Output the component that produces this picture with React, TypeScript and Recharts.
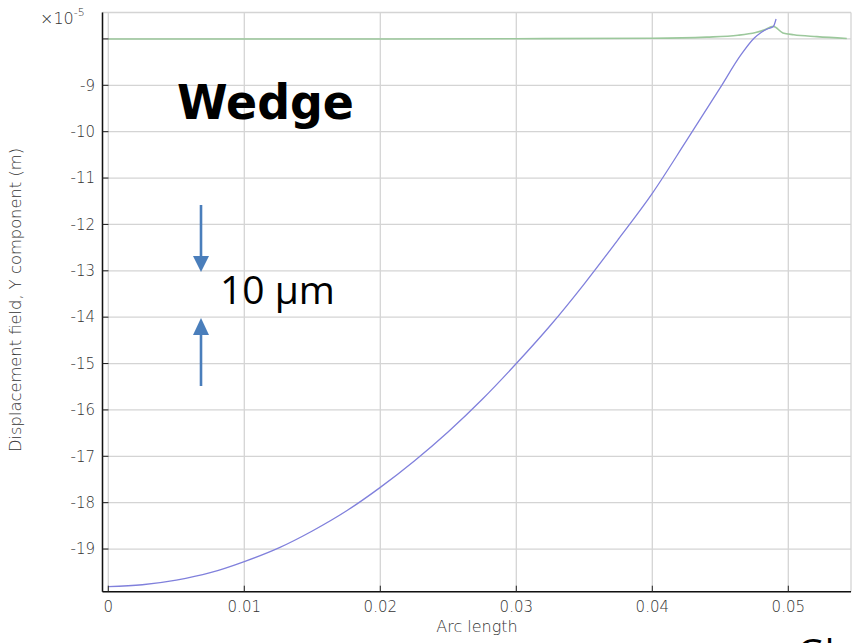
import { LineChart, Line, XAxis, YAxis, CartesianGrid } from 'recharts';

// arc length (m) vs displacement (×1e-5 m)
const blueArc = [0, 0.0025, 0.005, 0.0075, 0.01, 0.0125, 0.015, 0.0175, 0.02, 0.0225, 0.025, 0.0275, 0.03, 0.0325, 0.035, 0.0375, 0.04, 0.0425, 0.045, 0.0465, 0.0475, 0.048, 0.0485, 0.0489, 0.0491];
const blueDisp = [-19.81, -19.77, -19.67, -19.51, -19.27, -18.98, -18.61, -18.18, -17.67, -17.1, -16.47, -15.77, -15.0, -14.18, -13.28, -12.32, -11.33, -10.2, -9.05, -8.35, -7.98, -7.86, -7.78, -7.73, -7.57];

const greenArc = [0, 0.01, 0.02, 0.03, 0.04, 0.044, 0.0463, 0.0476, 0.0482, 0.0489, 0.0496, 0.0504, 0.0521, 0.0543];
const greenDisp = [-8.0, -8.0, -8.0, -7.995, -7.985, -7.96, -7.92, -7.86, -7.81, -7.73, -7.87, -7.91, -7.95, -7.99];

const xTicks = [0, 0.01, 0.02, 0.03, 0.04, 0.05];
const yTicks = [-19, -18, -17, -16, -15, -14, -13, -12, -11, -10, -9, -8];

const blueData = blueArc.map((x, i) => ({ x, y: blueDisp[i] }));
const greenData = greenArc.map((x, i) => ({ x, y: greenDisp[i] }));

const xDomain: [number, number] = [-0.000426, 0.05461];
const yDomain: [number, number] = [-19.92, -7.43];

const tickFont = { fill: '#333', fontSize: 15, fontFamily: 'DejaVu Sans', fontWeight: 300 };
const arrowBlue = '#4a7ebb';

export default function App() {
  return (
    <div style={{ position: 'absolute', left: 0, top: 0, width: 856, height: 643, overflow: 'hidden', background: '#fff' }}>
      <LineChart width={856} height={643} data={blueData} margin={{ top: 12.5, right: 5, bottom: 11.3, left: 0 }}>
        <CartesianGrid xAxisId="x" yAxisId="y" stroke="#d4d4d4" strokeWidth={1.3} />
        <XAxis
          xAxisId="x"
          type="number"
          dataKey="x"
          domain={xDomain}
          ticks={xTicks}
          allowDataOverflow
          height={40}
          tickSize={-6}
          tickMargin={16}
          tick={tickFont}
          axisLine={{ stroke: '#111', strokeWidth: 1.5 }}
          tickLine={{ stroke: '#222' }}
          tickFormatter={(v) => String(v)}
        />
        <XAxis
          xAxisId="top"
          orientation="top"
          type="number"
          dataKey="x"
          domain={xDomain}
          ticks={xTicks}
          allowDataOverflow
          height={0}
          tickSize={-6}
          tick={false}
          axisLine={{ stroke: '#111', strokeWidth: 1.5 }}
          tickLine={{ stroke: '#222' }}
        />
        <YAxis
          yAxisId="y"
          type="number"
          domain={yDomain}
          ticks={yTicks}
          allowDataOverflow
          width={102.5}
          tickSize={-6}
          tickMargin={13.5}
          tick={tickFont}
          axisLine={{ stroke: '#111', strokeWidth: 1.5 }}
          tickLine={{ stroke: '#222' }}
          tickFormatter={(v) => (v === -8 ? '' : String(v))}
        />
        <YAxis
          yAxisId="right"
          orientation="right"
          type="number"
          domain={yDomain}
          ticks={yTicks}
          allowDataOverflow
          width={0}
          tickSize={-6}
          tick={false}
          axisLine={{ stroke: '#111', strokeWidth: 1.5 }}
          tickLine={{ stroke: '#222' }}
        />
        <Line
          xAxisId="x"
          yAxisId="y"
          data={greenData}
          dataKey="y"
          type="monotone"
          stroke="#9cc89c"
          strokeWidth={1.6}
          dot={false}
          isAnimationActive={false}
        />
        <Line
          xAxisId="x"
          yAxisId="y"
          data={blueData}
          dataKey="y"
          type="monotone"
          stroke="#8080dc"
          strokeWidth={1.3}
          dot={false}
          isAnimationActive={false}
        />
      </LineChart>

      {/* titles and annotations */}
      <svg width={856} height={643} style={{ position: 'absolute', left: 0, top: 0, pointerEvents: 'none' }}>
        <text x={40} y={24} fontFamily="DejaVu Sans" fontWeight={300} fontSize={16} fill="#333">
          ×10<tspan dy={-8} fontSize={11}>-5</tspan>
        </text>
        <text
          x={16}
          y={300}
          transform="rotate(-90 16 300)"
          textAnchor="middle"
          dominantBaseline="central"
          fontFamily="DejaVu Sans"
          fontWeight={300}
          fontSize={15.5}
          textLength={304}
          lengthAdjust="spacingAndGlyphs"
          fill="#333"
        >
          Displacement field, Y component (m)
        </text>
        <text x={477} y={632} textAnchor="middle" fontFamily="DejaVu Sans" fontWeight={300} fontSize={16} fill="#333">
          Arc length
        </text>
        <text x={177} y={119} fontFamily="DejaVu Sans" fontWeight="bold" fontSize={48} textLength={177} lengthAdjust="spacingAndGlyphs" fill="#000">
          Wedge
        </text>
        <text x={220} y={304} fontFamily="Open Sans" fontSize={39} fill="#000">
          10 μm
        </text>
        <line x1={201} y1={205} x2={201} y2={258} stroke={arrowBlue} strokeWidth={2.6} />
        <path d="M193,256 L209,256 L201,272 Z" fill={arrowBlue} />
        <line x1={201} y1={386} x2={201} y2={333} stroke={arrowBlue} strokeWidth={2.6} />
        <path d="M193,335 L209,335 L201,318 Z" fill={arrowBlue} />
        <text x={797} y={667} fontFamily="Open Sans" fontSize={38} fill="#000">
          Global
        </text>
      </svg>
    </div>
  );
}
